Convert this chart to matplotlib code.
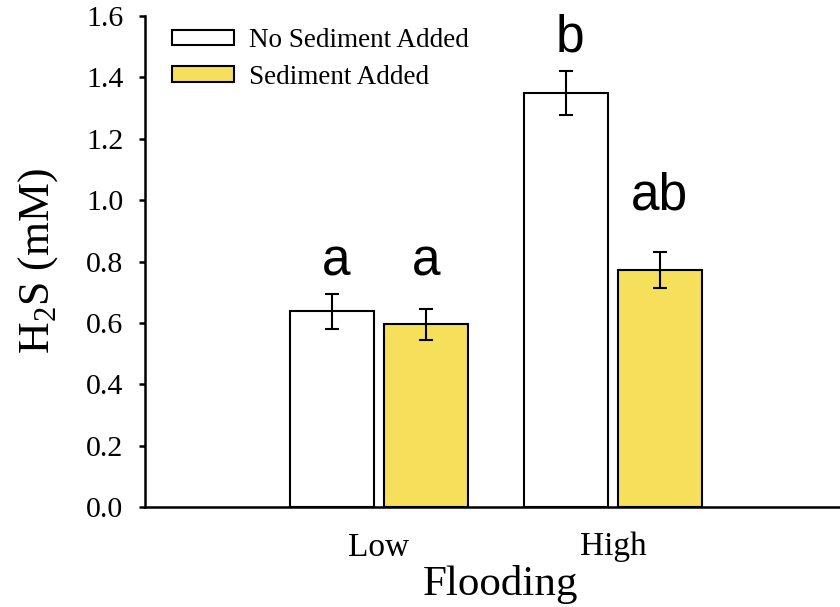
import matplotlib
matplotlib.use("Agg")
import matplotlib.pyplot as plt
import numpy as np

# data
groups = ["Low", "High"]
series = ["No Sediment Added", "Sediment Added"]
no_sed = [0.638, 1.350]
no_sed_err = [0.057, 0.072]
sed = [0.595, 0.773]
sed_err = [0.050, 0.058]
letters_no_sed = ["a", "b"]
letters_sed = ["a", "ab"]
letter_y_no_sed = [0.756, 1.483]
letter_y_sed = [0.756, 0.968]

plt.rcParams["font.family"] = ["Liberation Serif", "DejaVu Serif"]
plt.rcParams["mathtext.fontset"] = "custom"
plt.rcParams["mathtext.rm"] = "Liberation Serif"

fig = plt.figure(figsize=(8.4, 6.07), dpi=100)
ax = fig.add_axes([145 / 840, 100 / 607, 695 / 840, 491 / 607])

x = np.arange(1, len(groups) + 1)
w = 0.36
off = 0.2
ekw = dict(elinewidth=1.5, capthick=1.5, ecolor="black")
ax.bar(x - off, no_sed, w, yerr=no_sed_err, color="white", edgecolor="black",
       linewidth=1.5, capsize=4.7, error_kw=ekw, label=series[0], zorder=2)
ax.bar(x + off, sed, w, yerr=sed_err, color="#F6DF5A", edgecolor="black",
       linewidth=1.5, capsize=4.7, error_kw=ekw, label=series[1], zorder=2)

# significance letters, nudged a little right like the original
for i in range(len(groups)):
    ax.text(x[i] - off + 0.015, letter_y_no_sed[i], letters_no_sed[i], ha="center",
            va="baseline", fontsize=37, family="Liberation Sans")
    ax.text(x[i] + off, letter_y_sed[i], letters_sed[i], ha="center", va="baseline",
            fontsize=37, family="Liberation Sans")

ax.set_xlim(0, 2.97)
ax.set_ylim(0, 1.6)
ax.set_yticks(np.arange(0, 1.61, 0.2))
ax.set_yticklabels(["%.1f" % v for v in np.arange(0, 1.61, 0.2)])
ax.set_xticks(x)
ax.set_xticklabels(groups)
ax.tick_params(axis="x", length=0, pad=18, labelsize=24)
ax.tick_params(axis="y", length=4.5, width=1.8, direction="out", pad=11, labelsize=21.5)

for s in ["top", "right"]:
    ax.spines[s].set_visible(False)
for s in ["left", "bottom"]:
    ax.spines[s].set_linewidth(1.8)

ax.set_ylabel("H$_\\mathregular{2}$S (mM)", fontsize=31.5, labelpad=19)
ax.set_xlabel("Flooding", fontsize=31, labelpad=2)
ax.xaxis.set_label_coords(0.511, -0.118)

ax.legend(loc="upper left", bbox_to_anchor=(172 / 840, 1 - 28 / 607),
          bbox_transform=fig.transFigure, frameon=False, fontsize=19.5,
          handlelength=2.29, handleheight=0.52, handletextpad=0.55,
          labelspacing=0.43, borderpad=0, borderaxespad=0)

fig.savefig("out.png", dpi=100)
